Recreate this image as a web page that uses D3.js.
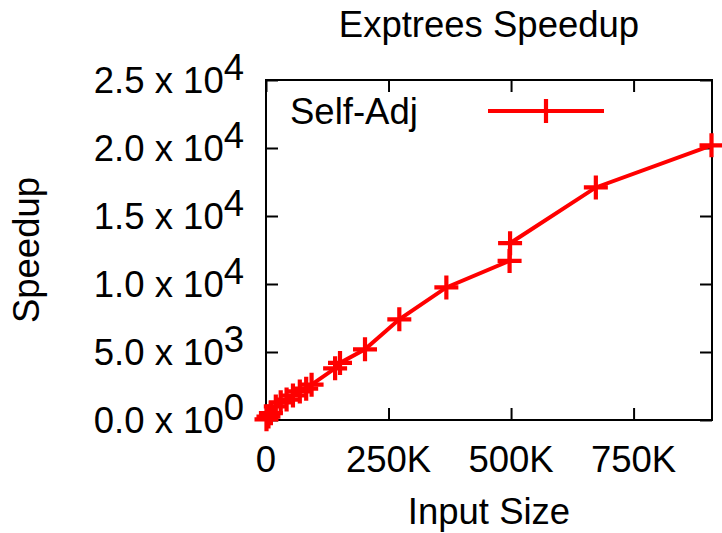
<!DOCTYPE html>
<html>
<head>
<meta charset="utf-8">
<script src="https://cdn.jsdelivr.net/npm/d3@7"></script>
<style>
  body { margin: 0; background: #fff; }
  svg { display: block; }
  text { font-family: "Liberation Sans", Arial, Helvetica, sans-serif; fill: #000; }
</style>
</head>
<body>
<svg id="chart" width="722" height="533"></svg>
<script>
const title = "Exptrees Speedup";
const xLabel = "Input Size";
const yLabel = "Speedup";
const seriesName = "Self-Adj";
const inputSize = [1000, 5000, 10000, 20000, 30000, 42000, 55000, 69000, 82000, 93000, 141000, 151000, 202000, 272000, 368000, 497000, 498000, 673000, 909000];
const speedup   = [50, 250, 500, 1000, 1300, 1500, 1800, 2100, 2300, 2600, 3800, 4200, 5200, 7400, 9750, 11700, 13000, 17100, 20200];
const xTicks = [0, 250000, 500000, 750000];
const xTickLabels = ["0", "250K", "500K", "750K"];
const yTicks = [0, 5000, 10000, 15000, 20000, 25000];

(function () {
const svg = d3.select("#chart");
const mL = 266, mR = 712, mT = 80, mB = 420;
const fs = 36.5;
const red = "#ff0000";
const tl = 12;

const x = d3.scaleLinear().domain([0, 910000]).range([mL, mR]);
const y = d3.scaleLinear().domain([0, 25000]).range([mB, mT]);

const data = inputSize.map((v, i) => ({x: v, y: speedup[i]}));

function styleAxis(g) {
  g.select(".domain").remove();
  g.selectAll(".tick line").attr("stroke", "#000").attr("stroke-width", 2);
  g.selectAll(".tick text").remove();
}

// ticks via d3 axes (inward)
svg.append("g").attr("transform", `translate(0,${mB})`)
  .call(d3.axisBottom(x).tickValues(xTicks).tickSize(-tl)).call(styleAxis);
svg.append("g").attr("transform", `translate(0,${mT})`)
  .call(d3.axisTop(x).tickValues(xTicks).tickSize(-tl)).call(styleAxis);
svg.append("g").attr("transform", `translate(${mL},0)`)
  .call(d3.axisLeft(y).tickValues(yTicks).tickSize(-tl)).call(styleAxis);
svg.append("g").attr("transform", `translate(${mR},0)`)
  .call(d3.axisRight(y).tickValues(yTicks).tickSize(-tl)).call(styleAxis);

// border
svg.append("rect").attr("x", mL).attr("y", mT)
  .attr("width", mR - mL).attr("height", mB - mT)
  .attr("fill", "none").attr("stroke", "#000").attr("stroke-width", 2);

// tick labels
xTicks.forEach((t, i) => {
  svg.append("text").attr("x", x(t)).attr("y", 472).attr("text-anchor", "middle")
    .attr("font-size", fs).text(xTickLabels[i]);
});
yTicks.forEach(t => {
  const py = y(t);
  const e = t === 0 ? 0 : Math.floor(Math.log10(t));
  const m = t === 0 ? 0 : t / Math.pow(10, e);
  const txt = svg.append("text").attr("x", 244).attr("y", py + 13)
    .attr("text-anchor", "end").attr("font-size", fs);
  txt.append("tspan").text(m.toFixed(1) + " x 10");
  txt.append("tspan").attr("dy", -13).text(String(e));
});

// line + markers
const line = d3.line().x(d => x(d.x)).y(d => y(d.y));
svg.append("path").datum(data).attr("d", line)
  .attr("fill", "none").attr("stroke", red).attr("stroke-width", 4);

const ms = 12;
function plus(g, cx, cy) {
  g.append("path")
    .attr("d", `M${cx - ms},${cy}H${cx + ms}M${cx},${cy - ms}V${cy + ms}`)
    .attr("stroke", red).attr("stroke-width", 4.2).attr("fill", "none");
}
const mg = svg.append("g");
data.forEach(d => plus(mg, x(d.x), y(d.y)));

// legend
svg.append("text").attr("x", 290).attr("y", 124).attr("font-size", fs).text(seriesName);
svg.append("line").attr("x1", 488).attr("x2", 604).attr("y1", 111).attr("y2", 111)
  .attr("stroke", red).attr("stroke-width", 4);
plus(svg, 546, 111);

// titles
svg.append("text").attr("x", (mL + mR) / 2).attr("y", 37).attr("text-anchor", "middle")
  .attr("font-size", fs).text(title);
svg.append("text").attr("x", (mL + mR) / 2).attr("y", 524).attr("text-anchor", "middle")
  .attr("font-size", fs).text(xLabel);
svg.append("text").attr("transform", `translate(39,${(mT + mB) / 2}) rotate(-90)`)
  .attr("text-anchor", "middle").attr("font-size", fs).text(yLabel);
})();
</script>
</body>
</html>
